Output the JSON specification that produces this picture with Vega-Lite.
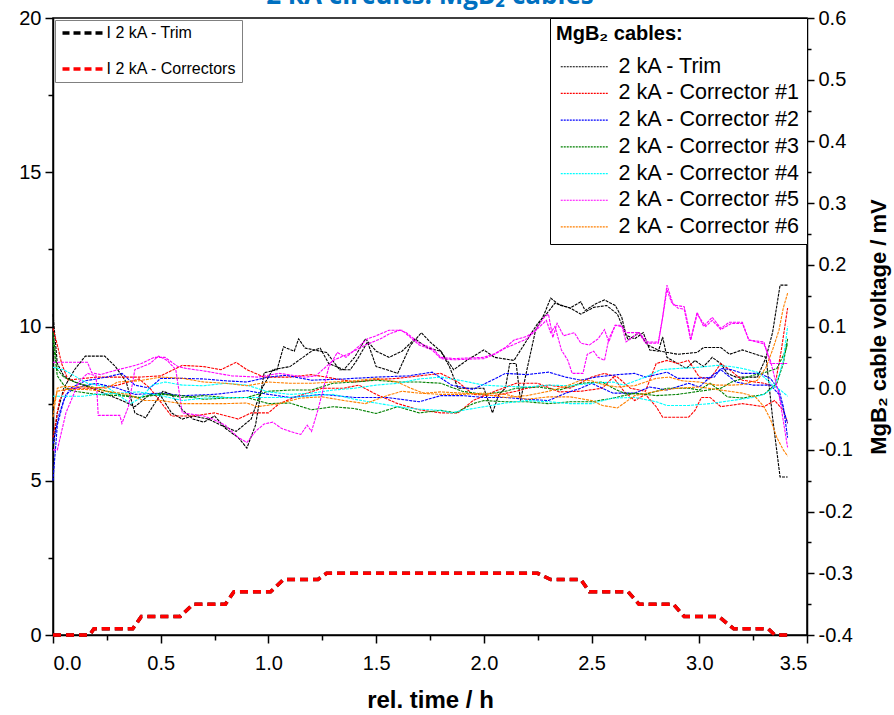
{
"$schema": "https://vega.github.io/schema/vega-lite/v6.json",
"width": 754, "height": 617,
"autosize": {"type": "none"},
"padding": {"left": 53, "top": 18, "right": 87, "bottom": 80},
"background": "white",
"title": {"text": "2 kA circuits: MgB₂ cables", "color": "#0070C0", "fontSize": 26, "fontWeight": "bold", "font": "Open Sans", "anchor": "middle", "baseline": "alphabetic", "offset": -22, "frame": "group"},
"config": {"view": {"stroke": "black", "strokeWidth": 1.5}, "font": "Liberation Sans",
  "axis": {"grid": false, "domainColor": "black", "domainWidth": 1.5, "tickColor": "black", "tickWidth": 1.5, "labelColor": "black", "titleColor": "black", "labelFont": "Liberation Sans", "titleFont": "Liberation Sans", "labelFontSize": 20}},
"datasets": {
"cur": [
{"s":"I 2 kA - Trim","t":0,"i":0},{"s":"I 2 kA - Trim","t":0.17,"i":0},{"s":"I 2 kA - Trim","t":0.19,"i":0.2},{"s":"I 2 kA - Trim","t":0.37,"i":0.2},{"s":"I 2 kA - Trim","t":0.41,"i":0.6},{"s":"I 2 kA - Trim","t":0.59,"i":0.6},{"s":"I 2 kA - Trim","t":0.65,"i":1.0},{"s":"I 2 kA - Trim","t":0.8,"i":1.0},{"s":"I 2 kA - Trim","t":0.84,"i":1.4},{"s":"I 2 kA - Trim","t":1.01,"i":1.4},{"s":"I 2 kA - Trim","t":1.07,"i":1.8},{"s":"I 2 kA - Trim","t":1.23,"i":1.8},{"s":"I 2 kA - Trim","t":1.27,"i":2.0},{"s":"I 2 kA - Trim","t":2.25,"i":2.0},{"s":"I 2 kA - Trim","t":2.31,"i":1.8},{"s":"I 2 kA - Trim","t":2.45,"i":1.8},{"s":"I 2 kA - Trim","t":2.49,"i":1.4},{"s":"I 2 kA - Trim","t":2.67,"i":1.4},{"s":"I 2 kA - Trim","t":2.72,"i":1.0},{"s":"I 2 kA - Trim","t":2.88,"i":1.0},{"s":"I 2 kA - Trim","t":2.93,"i":0.6},{"s":"I 2 kA - Trim","t":3.09,"i":0.6},{"s":"I 2 kA - Trim","t":3.16,"i":0.2},{"s":"I 2 kA - Trim","t":3.32,"i":0.2},{"s":"I 2 kA - Trim","t":3.35,"i":0},{"s":"I 2 kA - Trim","t":3.43,"i":0},
{"s":"I 2 kA - Correctors","t":0,"i":0},{"s":"I 2 kA - Correctors","t":0.17,"i":0},{"s":"I 2 kA - Correctors","t":0.19,"i":0.2},{"s":"I 2 kA - Correctors","t":0.37,"i":0.2},{"s":"I 2 kA - Correctors","t":0.41,"i":0.6},{"s":"I 2 kA - Correctors","t":0.59,"i":0.6},{"s":"I 2 kA - Correctors","t":0.65,"i":1.0},{"s":"I 2 kA - Correctors","t":0.8,"i":1.0},{"s":"I 2 kA - Correctors","t":0.84,"i":1.4},{"s":"I 2 kA - Correctors","t":1.01,"i":1.4},{"s":"I 2 kA - Correctors","t":1.07,"i":1.8},{"s":"I 2 kA - Correctors","t":1.23,"i":1.8},{"s":"I 2 kA - Correctors","t":1.27,"i":2.0},{"s":"I 2 kA - Correctors","t":2.25,"i":2.0},{"s":"I 2 kA - Correctors","t":2.31,"i":1.8},{"s":"I 2 kA - Correctors","t":2.45,"i":1.8},{"s":"I 2 kA - Correctors","t":2.49,"i":1.4},{"s":"I 2 kA - Correctors","t":2.67,"i":1.4},{"s":"I 2 kA - Correctors","t":2.72,"i":1.0},{"s":"I 2 kA - Correctors","t":2.88,"i":1.0},{"s":"I 2 kA - Correctors","t":2.93,"i":0.6},{"s":"I 2 kA - Correctors","t":3.09,"i":0.6},{"s":"I 2 kA - Correctors","t":3.16,"i":0.2},{"s":"I 2 kA - Correctors","t":3.32,"i":0.2},{"s":"I 2 kA - Correctors","t":3.35,"i":0},{"s":"I 2 kA - Correctors","t":3.43,"i":0}
],
"vol": [
{"k":"T","r":"a","t":0,"v":-0.1},{"k":"T","r":"a","t":0.02,"v":-0.04},{"k":"T","r":"a","t":0.05,"v":0.0},{"k":"T","r":"a","t":0.1,"v":0.03},{"k":"T","r":"a","t":0.15,"v":0.052},{"k":"T","r":"a","t":0.24,"v":0.052},{"k":"T","r":"a","t":0.29,"v":0.035},{"k":"T","r":"a","t":0.34,"v":0.01},{"k":"T","r":"a","t":0.38,"v":-0.04},{"k":"T","r":"a","t":0.43,"v":-0.048},{"k":"T","r":"a","t":0.48,"v":-0.02},{"k":"T","r":"a","t":0.51,"v":-0.005},{"k":"T","r":"a","t":0.55,"v":-0.01},{"k":"T","r":"a","t":0.6,"v":-0.035},{"k":"T","r":"a","t":0.65,"v":-0.05},{"k":"T","r":"a","t":0.7,"v":-0.055},{"k":"T","r":"a","t":0.75,"v":-0.045},{"k":"T","r":"a","t":0.8,"v":-0.065},{"k":"T","r":"a","t":0.86,"v":-0.08},{"k":"T","r":"a","t":0.9,"v":-0.097},{"k":"T","r":"a","t":0.94,"v":-0.06},{"k":"T","r":"a","t":0.98,"v":0.025},{"k":"T","r":"a","t":1.04,"v":0.03},{"k":"T","r":"a","t":1.07,"v":0.067},{"k":"T","r":"a","t":1.12,"v":0.06},{"k":"T","r":"a","t":1.14,"v":0.08},{"k":"T","r":"a","t":1.17,"v":0.065},{"k":"T","r":"a","t":1.27,"v":0.058},{"k":"T","r":"a","t":1.33,"v":0.03},{"k":"T","r":"a","t":1.38,"v":0.03},{"k":"T","r":"a","t":1.41,"v":0.045},{"k":"T","r":"a","t":1.46,"v":0.075},{"k":"T","r":"a","t":1.5,"v":0.035},{"k":"T","r":"a","t":1.55,"v":0.03},{"k":"T","r":"a","t":1.6,"v":0.024},{"k":"T","r":"a","t":1.66,"v":0.07},{"k":"T","r":"a","t":1.71,"v":0.09},{"k":"T","r":"a","t":1.75,"v":0.075},{"k":"T","r":"a","t":1.8,"v":0.06},{"k":"T","r":"a","t":1.84,"v":0.035},{"k":"T","r":"a","t":1.88,"v":0.0},{"k":"T","r":"a","t":2.0,"v":0.0},{"k":"T","r":"a","t":2.04,"v":-0.04},{"k":"T","r":"a","t":2.07,"v":-0.01},{"k":"T","r":"a","t":2.1,"v":0.0},{"k":"T","r":"a","t":2.12,"v":0.04},{"k":"T","r":"a","t":2.15,"v":0.04},{"k":"T","r":"a","t":2.17,"v":-0.02},{"k":"T","r":"a","t":2.2,"v":0.03},{"k":"T","r":"a","t":2.24,"v":0.094},{"k":"T","r":"a","t":2.28,"v":0.12},{"k":"T","r":"a","t":2.31,"v":0.146},{"k":"T","r":"a","t":2.35,"v":0.135},{"k":"T","r":"a","t":2.4,"v":0.13},{"k":"T","r":"a","t":2.45,"v":0.14},{"k":"T","r":"a","t":2.47,"v":0.126},{"k":"T","r":"a","t":2.52,"v":0.137},{"k":"T","r":"a","t":2.56,"v":0.143},{"k":"T","r":"a","t":2.61,"v":0.134},{"k":"T","r":"a","t":2.64,"v":0.115},{"k":"T","r":"a","t":2.66,"v":0.086},{"k":"T","r":"a","t":2.7,"v":0.08},{"k":"T","r":"a","t":2.74,"v":0.09},{"k":"T","r":"a","t":2.77,"v":0.062},{"k":"T","r":"a","t":2.81,"v":0.06},{"k":"T","r":"a","t":2.83,"v":0.083},{"k":"T","r":"a","t":2.85,"v":0.05},{"k":"T","r":"a","t":2.94,"v":0.032},{"k":"T","r":"a","t":2.98,"v":0.045},{"k":"T","r":"a","t":3.02,"v":0.035},{"k":"T","r":"a","t":3.06,"v":0.05},{"k":"T","r":"a","t":3.1,"v":0.04},{"k":"T","r":"a","t":3.13,"v":0.024},{"k":"T","r":"a","t":3.17,"v":0.018},{"k":"T","r":"a","t":3.27,"v":0.018},{"k":"T","r":"a","t":3.31,"v":0.05},{"k":"T","r":"a","t":3.34,"v":-0.047},{"k":"T","r":"a","t":3.375,"v":-0.144},{"k":"T","r":"a","t":3.41,"v":-0.144},
{"k":"T","r":"b","t":0,"v":0.12},{"k":"T","r":"b","t":0.02,"v":0.04},{"k":"T","r":"b","t":0.05,"v":0.02},{"k":"T","r":"b","t":0.1,"v":0.01},{"k":"T","r":"b","t":0.18,"v":0.0},{"k":"T","r":"b","t":0.25,"v":-0.01},{"k":"T","r":"b","t":0.32,"v":-0.02},{"k":"T","r":"b","t":0.38,"v":-0.03},{"k":"T","r":"b","t":0.45,"v":-0.01},{"k":"T","r":"b","t":0.5,"v":-0.012},{"k":"T","r":"b","t":0.55,"v":-0.04},{"k":"T","r":"b","t":0.6,"v":-0.05},{"k":"T","r":"b","t":0.65,"v":-0.045},{"k":"T","r":"b","t":0.72,"v":-0.05},{"k":"T","r":"b","t":0.78,"v":-0.06},{"k":"T","r":"b","t":0.85,"v":-0.07},{"k":"T","r":"b","t":0.92,"v":-0.05},{"k":"T","r":"b","t":0.97,"v":0.0},{"k":"T","r":"b","t":1.02,"v":0.03},{"k":"T","r":"b","t":1.1,"v":0.035},{"k":"T","r":"b","t":1.2,"v":0.06},{"k":"T","r":"b","t":1.24,"v":0.065},{"k":"T","r":"b","t":1.28,"v":0.04},{"k":"T","r":"b","t":1.35,"v":0.03},{"k":"T","r":"b","t":1.4,"v":0.05},{"k":"T","r":"b","t":1.45,"v":0.08},{"k":"T","r":"b","t":1.5,"v":0.06},{"k":"T","r":"b","t":1.56,"v":0.05},{"k":"T","r":"b","t":1.62,"v":0.06},{"k":"T","r":"b","t":1.68,"v":0.08},{"k":"T","r":"b","t":1.74,"v":0.065},{"k":"T","r":"b","t":1.8,"v":0.06},{"k":"T","r":"b","t":1.86,"v":0.03},{"k":"T","r":"b","t":1.92,"v":0.045},{"k":"T","r":"b","t":2.0,"v":0.062},{"k":"T","r":"b","t":2.05,"v":0.05},{"k":"T","r":"b","t":2.14,"v":0.045},{"k":"T","r":"b","t":2.2,"v":0.078},{"k":"T","r":"b","t":2.25,"v":0.105},{"k":"T","r":"b","t":2.29,"v":0.12},{"k":"T","r":"b","t":2.33,"v":0.138},{"k":"T","r":"b","t":2.4,"v":0.13},{"k":"T","r":"b","t":2.45,"v":0.12},{"k":"T","r":"b","t":2.51,"v":0.131},{"k":"T","r":"b","t":2.57,"v":0.134},{"k":"T","r":"b","t":2.62,"v":0.12},{"k":"T","r":"b","t":2.67,"v":0.078},{"k":"T","r":"b","t":2.72,"v":0.09},{"k":"T","r":"b","t":2.76,"v":0.07},{"k":"T","r":"b","t":2.82,"v":0.06},{"k":"T","r":"b","t":2.9,"v":0.055},{"k":"T","r":"b","t":2.99,"v":0.058},{"k":"T","r":"b","t":3.02,"v":0.066},{"k":"T","r":"b","t":3.1,"v":0.066},{"k":"T","r":"b","t":3.14,"v":0.055},{"k":"T","r":"b","t":3.2,"v":0.062},{"k":"T","r":"b","t":3.28,"v":0.053},{"k":"T","r":"b","t":3.31,"v":0.05},{"k":"T","r":"b","t":3.34,"v":0.09},{"k":"T","r":"b","t":3.375,"v":0.167},{"k":"T","r":"b","t":3.41,"v":0.167},
{"k":"1","r":"a","t":0,"v":0.097},{"k":"1","r":"a","t":0.02,"v":0.07},{"k":"1","r":"a","t":0.04,"v":0.04},{"k":"1","r":"a","t":0.07,"v":0.013},{"k":"1","r":"a","t":0.12,"v":0.015},{"k":"1","r":"a","t":0.2,"v":0.018},{"k":"1","r":"a","t":0.3,"v":0.018},{"k":"1","r":"a","t":0.4,"v":0.018},{"k":"1","r":"a","t":0.5,"v":0.02},{"k":"1","r":"a","t":0.6,"v":0.037},{"k":"1","r":"a","t":0.7,"v":0.035},{"k":"1","r":"a","t":0.78,"v":0.03},{"k":"1","r":"a","t":0.85,"v":0.042},{"k":"1","r":"a","t":0.9,"v":0.03},{"k":"1","r":"a","t":0.98,"v":0.018},{"k":"1","r":"a","t":1.1,"v":0.018},{"k":"1","r":"a","t":1.2,"v":0.022},{"k":"1","r":"a","t":1.3,"v":0.016},{"k":"1","r":"a","t":1.4,"v":0.01},{"k":"1","r":"a","t":1.5,"v":0.014},{"k":"1","r":"a","t":1.6,"v":0.016},{"k":"1","r":"a","t":1.7,"v":0.02},{"k":"1","r":"a","t":1.8,"v":0.024},{"k":"1","r":"a","t":1.88,"v":0.01},{"k":"1","r":"a","t":1.95,"v":-0.01},{"k":"1","r":"a","t":2.05,"v":-0.012},{"k":"1","r":"a","t":2.15,"v":-0.005},{"k":"1","r":"a","t":2.2,"v":0.0},{"k":"1","r":"a","t":2.3,"v":0.005},{"k":"1","r":"a","t":2.4,"v":0.0},{"k":"1","r":"a","t":2.5,"v":0.018},{"k":"1","r":"a","t":2.56,"v":0.024},{"k":"1","r":"a","t":2.62,"v":0.018},{"k":"1","r":"a","t":2.68,"v":0.0},{"k":"1","r":"a","t":2.75,"v":-0.005},{"k":"1","r":"a","t":2.8,"v":0.04},{"k":"1","r":"a","t":2.85,"v":0.045},{"k":"1","r":"a","t":2.9,"v":0.04},{"k":"1","r":"a","t":2.95,"v":0.045},{"k":"1","r":"a","t":3.0,"v":0.018},{"k":"1","r":"a","t":3.05,"v":0.015},{"k":"1","r":"a","t":3.1,"v":0.04},{"k":"1","r":"a","t":3.14,"v":0.03},{"k":"1","r":"a","t":3.2,"v":0.013},{"k":"1","r":"a","t":3.3,"v":0.008},{"k":"1","r":"a","t":3.35,"v":0.002},{"k":"1","r":"a","t":3.38,"v":0.06},{"k":"1","r":"a","t":3.41,"v":0.13},
{"k":"1","r":"b","t":0,"v":-0.08},{"k":"1","r":"b","t":0.03,"v":-0.02},{"k":"1","r":"b","t":0.06,"v":0.0},{"k":"1","r":"b","t":0.12,"v":0.0},{"k":"1","r":"b","t":0.2,"v":0.0},{"k":"1","r":"b","t":0.3,"v":0.005},{"k":"1","r":"b","t":0.4,"v":0.015},{"k":"1","r":"b","t":0.45,"v":0.0},{"k":"1","r":"b","t":0.55,"v":-0.045},{"k":"1","r":"b","t":0.65,"v":-0.045},{"k":"1","r":"b","t":0.75,"v":-0.04},{"k":"1","r":"b","t":0.86,"v":-0.05},{"k":"1","r":"b","t":0.92,"v":-0.04},{"k":"1","r":"b","t":1.0,"v":-0.04},{"k":"1","r":"b","t":1.05,"v":-0.025},{"k":"1","r":"b","t":1.12,"v":-0.015},{"k":"1","r":"b","t":1.25,"v":0.0},{"k":"1","r":"b","t":1.35,"v":0.0},{"k":"1","r":"b","t":1.42,"v":0.005},{"k":"1","r":"b","t":1.5,"v":-0.01},{"k":"1","r":"b","t":1.6,"v":-0.025},{"k":"1","r":"b","t":1.7,"v":-0.035},{"k":"1","r":"b","t":1.8,"v":-0.04},{"k":"1","r":"b","t":1.88,"v":-0.04},{"k":"1","r":"b","t":1.95,"v":-0.02},{"k":"1","r":"b","t":2.05,"v":-0.005},{"k":"1","r":"b","t":2.15,"v":0.008},{"k":"1","r":"b","t":2.25,"v":0.008},{"k":"1","r":"b","t":2.35,"v":-0.006},{"k":"1","r":"b","t":2.45,"v":-0.005},{"k":"1","r":"b","t":2.55,"v":0.0},{"k":"1","r":"b","t":2.6,"v":0.018},{"k":"1","r":"b","t":2.65,"v":-0.005},{"k":"1","r":"b","t":2.7,"v":-0.02},{"k":"1","r":"b","t":2.75,"v":-0.01},{"k":"1","r":"b","t":2.8,"v":-0.03},{"k":"1","r":"b","t":2.83,"v":-0.047},{"k":"1","r":"b","t":2.95,"v":-0.047},{"k":"1","r":"b","t":2.98,"v":-0.036},{"k":"1","r":"b","t":3.01,"v":-0.015},{"k":"1","r":"b","t":3.05,"v":-0.015},{"k":"1","r":"b","t":3.1,"v":-0.03},{"k":"1","r":"b","t":3.2,"v":-0.025},{"k":"1","r":"b","t":3.3,"v":-0.03},{"k":"1","r":"b","t":3.35,"v":-0.02},{"k":"1","r":"b","t":3.39,"v":-0.036},{"k":"1","r":"b","t":3.41,"v":-0.056},
{"k":"2","r":"a","t":0,"v":-0.15},{"k":"2","r":"a","t":0.02,"v":-0.06},{"k":"2","r":"a","t":0.05,"v":-0.02},{"k":"2","r":"a","t":0.08,"v":0.0},{"k":"2","r":"a","t":0.15,"v":0.012},{"k":"2","r":"a","t":0.25,"v":0.018},{"k":"2","r":"a","t":0.32,"v":0.024},{"k":"2","r":"a","t":0.38,"v":0.005},{"k":"2","r":"a","t":0.45,"v":0.0},{"k":"2","r":"a","t":0.5,"v":0.016},{"k":"2","r":"a","t":0.6,"v":0.016},{"k":"2","r":"a","t":0.7,"v":0.015},{"k":"2","r":"a","t":0.8,"v":0.012},{"k":"2","r":"a","t":0.9,"v":0.01},{"k":"2","r":"a","t":1.0,"v":0.018},{"k":"2","r":"a","t":1.08,"v":0.021},{"k":"2","r":"a","t":1.2,"v":0.013},{"k":"2","r":"a","t":1.35,"v":0.015},{"k":"2","r":"a","t":1.5,"v":0.018},{"k":"2","r":"a","t":1.65,"v":0.02},{"k":"2","r":"a","t":1.76,"v":0.026},{"k":"2","r":"a","t":1.85,"v":0.005},{"k":"2","r":"a","t":1.95,"v":-0.002},{"k":"2","r":"a","t":2.05,"v":0.015},{"k":"2","r":"a","t":2.1,"v":0.024},{"k":"2","r":"a","t":2.2,"v":0.022},{"k":"2","r":"a","t":2.3,"v":0.026},{"k":"2","r":"a","t":2.38,"v":0.018},{"k":"2","r":"a","t":2.45,"v":0.013},{"k":"2","r":"a","t":2.52,"v":0.018},{"k":"2","r":"a","t":2.62,"v":0.022},{"k":"2","r":"a","t":2.7,"v":0.024},{"k":"2","r":"a","t":2.75,"v":0.018},{"k":"2","r":"a","t":2.85,"v":0.026},{"k":"2","r":"a","t":2.9,"v":0.016},{"k":"2","r":"a","t":3.0,"v":0.016},{"k":"2","r":"a","t":3.07,"v":0.018},{"k":"2","r":"a","t":3.1,"v":0.032},{"k":"2","r":"a","t":3.15,"v":0.03},{"k":"2","r":"a","t":3.2,"v":0.024},{"k":"2","r":"a","t":3.28,"v":0.024},{"k":"2","r":"a","t":3.33,"v":0.016},{"k":"2","r":"a","t":3.37,"v":-0.003},{"k":"2","r":"a","t":3.39,"v":-0.03},{"k":"2","r":"a","t":3.41,"v":-0.08},
{"k":"2","r":"b","t":0,"v":-0.09},{"k":"2","r":"b","t":0.03,"v":-0.04},{"k":"2","r":"b","t":0.06,"v":-0.01},{"k":"2","r":"b","t":0.1,"v":0.0},{"k":"2","r":"b","t":0.2,"v":0.008},{"k":"2","r":"b","t":0.3,"v":0.0},{"k":"2","r":"b","t":0.38,"v":-0.01},{"k":"2","r":"b","t":0.5,"v":-0.008},{"k":"2","r":"b","t":0.6,"v":-0.012},{"k":"2","r":"b","t":0.75,"v":-0.01},{"k":"2","r":"b","t":0.9,"v":-0.004},{"k":"2","r":"b","t":1.0,"v":-0.01},{"k":"2","r":"b","t":1.1,"v":-0.015},{"k":"2","r":"b","t":1.25,"v":-0.01},{"k":"2","r":"b","t":1.4,"v":-0.015},{"k":"2","r":"b","t":1.55,"v":-0.015},{"k":"2","r":"b","t":1.7,"v":-0.022},{"k":"2","r":"b","t":1.8,"v":-0.012},{"k":"2","r":"b","t":1.9,"v":-0.012},{"k":"2","r":"b","t":2.0,"v":-0.015},{"k":"2","r":"b","t":2.1,"v":-0.015},{"k":"2","r":"b","t":2.2,"v":-0.018},{"k":"2","r":"b","t":2.3,"v":-0.02},{"k":"2","r":"b","t":2.38,"v":-0.008},{"k":"2","r":"b","t":2.45,"v":0.0},{"k":"2","r":"b","t":2.5,"v":0.008},{"k":"2","r":"b","t":2.6,"v":-0.008},{"k":"2","r":"b","t":2.7,"v":-0.008},{"k":"2","r":"b","t":2.77,"v":0.002},{"k":"2","r":"b","t":2.85,"v":-0.003},{"k":"2","r":"b","t":2.95,"v":0.008},{"k":"2","r":"b","t":3.0,"v":0.002},{"k":"2","r":"b","t":3.05,"v":0.018},{"k":"2","r":"b","t":3.1,"v":0.03},{"k":"2","r":"b","t":3.17,"v":0.01},{"k":"2","r":"b","t":3.25,"v":0.005},{"k":"2","r":"b","t":3.33,"v":0.005},{"k":"2","r":"b","t":3.37,"v":-0.01},{"k":"2","r":"b","t":3.41,"v":-0.057},
{"k":"3","r":"a","t":0,"v":0.09},{"k":"3","r":"a","t":0.02,"v":0.03},{"k":"3","r":"a","t":0.05,"v":0.018},{"k":"3","r":"a","t":0.1,"v":0.01},{"k":"3","r":"a","t":0.2,"v":0.0},{"k":"3","r":"a","t":0.3,"v":-0.01},{"k":"3","r":"a","t":0.4,"v":-0.015},{"k":"3","r":"a","t":0.5,"v":-0.008},{"k":"3","r":"a","t":0.6,"v":-0.015},{"k":"3","r":"a","t":0.7,"v":-0.012},{"k":"3","r":"a","t":0.8,"v":-0.015},{"k":"3","r":"a","t":0.9,"v":-0.015},{"k":"3","r":"a","t":1.0,"v":-0.005},{"k":"3","r":"a","t":1.1,"v":-0.003},{"k":"3","r":"a","t":1.2,"v":-0.003},{"k":"3","r":"a","t":1.3,"v":0.008},{"k":"3","r":"a","t":1.4,"v":0.01},{"k":"3","r":"a","t":1.5,"v":0.013},{"k":"3","r":"a","t":1.6,"v":0.01},{"k":"3","r":"a","t":1.7,"v":0.01},{"k":"3","r":"a","t":1.8,"v":0.008},{"k":"3","r":"a","t":1.9,"v":-0.005},{"k":"3","r":"a","t":2.0,"v":-0.01},{"k":"3","r":"a","t":2.1,"v":-0.005},{"k":"3","r":"a","t":2.15,"v":0.0},{"k":"3","r":"a","t":2.25,"v":0.002},{"k":"3","r":"a","t":2.35,"v":-0.003},{"k":"3","r":"a","t":2.45,"v":0.008},{"k":"3","r":"a","t":2.55,"v":0.01},{"k":"3","r":"a","t":2.6,"v":0.0},{"k":"3","r":"a","t":2.65,"v":-0.008},{"k":"3","r":"a","t":2.75,"v":-0.01},{"k":"3","r":"a","t":2.85,"v":0.0},{"k":"3","r":"a","t":2.95,"v":0.0},{"k":"3","r":"a","t":3.0,"v":-0.003},{"k":"3","r":"a","t":3.05,"v":0.008},{"k":"3","r":"a","t":3.1,"v":-0.005},{"k":"3","r":"a","t":3.13,"v":-0.014},{"k":"3","r":"a","t":3.2,"v":-0.016},{"k":"3","r":"a","t":3.3,"v":-0.01},{"k":"3","r":"a","t":3.36,"v":0.008},{"k":"3","r":"a","t":3.39,"v":0.04},{"k":"3","r":"a","t":3.41,"v":0.08},
{"k":"3","r":"b","t":0,"v":0.078},{"k":"3","r":"b","t":0.02,"v":0.02},{"k":"3","r":"b","t":0.06,"v":0.0},{"k":"3","r":"b","t":0.1,"v":-0.005},{"k":"3","r":"b","t":0.2,"v":-0.01},{"k":"3","r":"b","t":0.3,"v":-0.012},{"k":"3","r":"b","t":0.4,"v":-0.015},{"k":"3","r":"b","t":0.5,"v":-0.01},{"k":"3","r":"b","t":0.6,"v":-0.012},{"k":"3","r":"b","t":0.7,"v":-0.018},{"k":"3","r":"b","t":0.8,"v":-0.016},{"k":"3","r":"b","t":0.9,"v":-0.015},{"k":"3","r":"b","t":1.0,"v":-0.025},{"k":"3","r":"b","t":1.1,"v":-0.024},{"k":"3","r":"b","t":1.2,"v":-0.035},{"k":"3","r":"b","t":1.3,"v":-0.03},{"k":"3","r":"b","t":1.4,"v":-0.033},{"k":"3","r":"b","t":1.5,"v":-0.041},{"k":"3","r":"b","t":1.6,"v":-0.03},{"k":"3","r":"b","t":1.7,"v":-0.04},{"k":"3","r":"b","t":1.8,"v":-0.036},{"k":"3","r":"b","t":1.87,"v":-0.04},{"k":"3","r":"b","t":1.95,"v":-0.025},{"k":"3","r":"b","t":2.0,"v":-0.02},{"k":"3","r":"b","t":2.1,"v":-0.022},{"k":"3","r":"b","t":2.2,"v":-0.022},{"k":"3","r":"b","t":2.3,"v":-0.025},{"k":"3","r":"b","t":2.4,"v":-0.022},{"k":"3","r":"b","t":2.5,"v":-0.022},{"k":"3","r":"b","t":2.6,"v":-0.016},{"k":"3","r":"b","t":2.7,"v":-0.008},{"k":"3","r":"b","t":2.8,"v":-0.012},{"k":"3","r":"b","t":2.9,"v":-0.01},{"k":"3","r":"b","t":3.0,"v":-0.005},{"k":"3","r":"b","t":3.1,"v":0.0},{"k":"3","r":"b","t":3.15,"v":0.01},{"k":"3","r":"b","t":3.25,"v":0.021},{"k":"3","r":"b","t":3.3,"v":0.025},{"k":"3","r":"b","t":3.36,"v":0.032},{"k":"3","r":"b","t":3.4,"v":0.06},{"k":"3","r":"b","t":3.41,"v":0.073},
{"k":"4","r":"a","t":0,"v":0.034},{"k":"4","r":"a","t":0.05,"v":0.03},{"k":"4","r":"a","t":0.1,"v":0.02},{"k":"4","r":"a","t":0.16,"v":0.008},{"k":"4","r":"a","t":0.25,"v":0.002},{"k":"4","r":"a","t":0.32,"v":-0.015},{"k":"4","r":"a","t":0.36,"v":-0.025},{"k":"4","r":"a","t":0.41,"v":-0.015},{"k":"4","r":"a","t":0.46,"v":0.005},{"k":"4","r":"a","t":0.52,"v":0.01},{"k":"4","r":"a","t":0.6,"v":0.005},{"k":"4","r":"a","t":0.7,"v":0.004},{"k":"4","r":"a","t":0.8,"v":0.008},{"k":"4","r":"a","t":0.9,"v":0.005},{"k":"4","r":"a","t":1.0,"v":-0.006},{"k":"4","r":"a","t":1.1,"v":-0.01},{"k":"4","r":"a","t":1.2,"v":-0.008},{"k":"4","r":"a","t":1.3,"v":-0.003},{"k":"4","r":"a","t":1.4,"v":0.0},{"k":"4","r":"a","t":1.5,"v":0.005},{"k":"4","r":"a","t":1.6,"v":0.008},{"k":"4","r":"a","t":1.7,"v":0.015},{"k":"4","r":"a","t":1.8,"v":0.018},{"k":"4","r":"a","t":1.9,"v":0.012},{"k":"4","r":"a","t":2.0,"v":0.005},{"k":"4","r":"a","t":2.1,"v":0.003},{"k":"4","r":"a","t":2.2,"v":0.002},{"k":"4","r":"a","t":2.3,"v":0.005},{"k":"4","r":"a","t":2.4,"v":0.004},{"k":"4","r":"a","t":2.5,"v":0.008},{"k":"4","r":"a","t":2.6,"v":0.01},{"k":"4","r":"a","t":2.65,"v":0.005},{"k":"4","r":"a","t":2.75,"v":0.018},{"k":"4","r":"a","t":2.82,"v":0.03},{"k":"4","r":"a","t":2.9,"v":0.032},{"k":"4","r":"a","t":3.0,"v":0.034},{"k":"4","r":"a","t":3.08,"v":0.037},{"k":"4","r":"a","t":3.15,"v":0.035},{"k":"4","r":"a","t":3.2,"v":0.032},{"k":"4","r":"a","t":3.27,"v":0.026},{"k":"4","r":"a","t":3.3,"v":0.018},{"k":"4","r":"a","t":3.34,"v":0.005},{"k":"4","r":"a","t":3.38,"v":-0.004},{"k":"4","r":"a","t":3.41,"v":-0.013},
{"k":"4","r":"b","t":0,"v":-0.013},{"k":"4","r":"b","t":0.14,"v":-0.013},{"k":"4","r":"b","t":0.2,"v":-0.01},{"k":"4","r":"b","t":0.3,"v":-0.008},{"k":"4","r":"b","t":0.4,"v":-0.006},{"k":"4","r":"b","t":0.5,"v":-0.012},{"k":"4","r":"b","t":0.6,"v":-0.02},{"k":"4","r":"b","t":0.7,"v":-0.016},{"k":"4","r":"b","t":0.8,"v":-0.015},{"k":"4","r":"b","t":0.9,"v":-0.015},{"k":"4","r":"b","t":1.0,"v":-0.015},{"k":"4","r":"b","t":1.1,"v":-0.015},{"k":"4","r":"b","t":1.2,"v":-0.012},{"k":"4","r":"b","t":1.3,"v":-0.01},{"k":"4","r":"b","t":1.4,"v":-0.018},{"k":"4","r":"b","t":1.5,"v":-0.024},{"k":"4","r":"b","t":1.6,"v":-0.03},{"k":"4","r":"b","t":1.7,"v":-0.034},{"k":"4","r":"b","t":1.8,"v":-0.036},{"k":"4","r":"b","t":1.85,"v":-0.04},{"k":"4","r":"b","t":1.9,"v":-0.036},{"k":"4","r":"b","t":2.0,"v":-0.03},{"k":"4","r":"b","t":2.1,"v":-0.024},{"k":"4","r":"b","t":2.2,"v":-0.02},{"k":"4","r":"b","t":2.3,"v":-0.022},{"k":"4","r":"b","t":2.4,"v":-0.025},{"k":"4","r":"b","t":2.5,"v":-0.025},{"k":"4","r":"b","t":2.6,"v":-0.016},{"k":"4","r":"b","t":2.7,"v":-0.015},{"k":"4","r":"b","t":2.8,"v":-0.022},{"k":"4","r":"b","t":2.85,"v":-0.028},{"k":"4","r":"b","t":2.95,"v":-0.028},{"k":"4","r":"b","t":3.05,"v":-0.025},{"k":"4","r":"b","t":3.15,"v":-0.02},{"k":"4","r":"b","t":3.25,"v":-0.015},{"k":"4","r":"b","t":3.3,"v":-0.01},{"k":"4","r":"b","t":3.34,"v":0.0},{"k":"4","r":"b","t":3.37,"v":0.02},{"k":"4","r":"b","t":3.39,"v":0.045},{"k":"4","r":"b","t":3.41,"v":0.1},
{"k":"5","r":"a","t":0,"v":0.042},{"k":"5","r":"a","t":0.16,"v":0.042},{"k":"5","r":"a","t":0.18,"v":0.025},{"k":"5","r":"a","t":0.22,"v":0.022},{"k":"5","r":"a","t":0.3,"v":0.03},{"k":"5","r":"a","t":0.36,"v":0.035},{"k":"5","r":"a","t":0.41,"v":0.04},{"k":"5","r":"a","t":0.47,"v":0.05},{"k":"5","r":"a","t":0.52,"v":0.05},{"k":"5","r":"a","t":0.58,"v":0.035},{"k":"5","r":"a","t":0.62,"v":0.032},{"k":"5","r":"a","t":0.7,"v":0.028},{"k":"5","r":"a","t":0.83,"v":0.02},{"k":"5","r":"a","t":0.95,"v":0.018},{"k":"5","r":"a","t":1.05,"v":0.024},{"k":"5","r":"a","t":1.17,"v":0.018},{"k":"5","r":"a","t":1.22,"v":0.02},{"k":"5","r":"a","t":1.3,"v":0.045},{"k":"5","r":"a","t":1.38,"v":0.057},{"k":"5","r":"a","t":1.45,"v":0.07},{"k":"5","r":"a","t":1.52,"v":0.08},{"k":"5","r":"a","t":1.56,"v":0.088},{"k":"5","r":"a","t":1.61,"v":0.094},{"k":"5","r":"a","t":1.64,"v":0.09},{"k":"5","r":"a","t":1.7,"v":0.073},{"k":"5","r":"a","t":1.76,"v":0.065},{"k":"5","r":"a","t":1.8,"v":0.05},{"k":"5","r":"a","t":1.86,"v":0.048},{"k":"5","r":"a","t":2.0,"v":0.05},{"k":"5","r":"a","t":2.05,"v":0.056},{"k":"5","r":"a","t":2.1,"v":0.066},{"k":"5","r":"a","t":2.14,"v":0.078},{"k":"5","r":"a","t":2.2,"v":0.084},{"k":"5","r":"a","t":2.24,"v":0.094},{"k":"5","r":"a","t":2.28,"v":0.115},{"k":"5","r":"a","t":2.3,"v":0.12},{"k":"5","r":"a","t":2.32,"v":0.082},{"k":"5","r":"a","t":2.34,"v":0.105},{"k":"5","r":"a","t":2.37,"v":0.085},{"k":"5","r":"a","t":2.42,"v":0.09},{"k":"5","r":"a","t":2.45,"v":0.073},{"k":"5","r":"a","t":2.49,"v":0.07},{"k":"5","r":"a","t":2.53,"v":0.08},{"k":"5","r":"a","t":2.56,"v":0.095},{"k":"5","r":"a","t":2.58,"v":0.075},{"k":"5","r":"a","t":2.61,"v":0.102},{"k":"5","r":"a","t":2.64,"v":0.102},{"k":"5","r":"a","t":2.66,"v":0.075},{"k":"5","r":"a","t":2.72,"v":0.09},{"k":"5","r":"a","t":2.76,"v":0.075},{"k":"5","r":"a","t":2.81,"v":0.075},{"k":"5","r":"a","t":2.83,"v":0.115},{"k":"5","r":"a","t":2.85,"v":0.167},{"k":"5","r":"a","t":2.87,"v":0.145},{"k":"5","r":"a","t":2.88,"v":0.135},{"k":"5","r":"a","t":2.93,"v":0.132},{"k":"5","r":"a","t":2.95,"v":0.1},{"k":"5","r":"a","t":2.96,"v":0.078},{"k":"5","r":"a","t":2.99,"v":0.123},{"k":"5","r":"a","t":3.02,"v":0.1},{"k":"5","r":"a","t":3.06,"v":0.115},{"k":"5","r":"a","t":3.1,"v":0.097},{"k":"5","r":"a","t":3.14,"v":0.107},{"k":"5","r":"a","t":3.2,"v":0.107},{"k":"5","r":"a","t":3.23,"v":0.078},{"k":"5","r":"a","t":3.3,"v":0.075},{"k":"5","r":"a","t":3.33,"v":0.04},{"k":"5","r":"a","t":3.41,"v":0.04},
{"k":"5","r":"b","t":0,"v":-0.1},{"k":"5","r":"b","t":0.02,"v":-0.1},{"k":"5","r":"b","t":0.06,"v":-0.04},{"k":"5","r":"b","t":0.12,"v":0.01},{"k":"5","r":"b","t":0.16,"v":0.024},{"k":"5","r":"b","t":0.2,"v":0.02},{"k":"5","r":"b","t":0.21,"v":-0.044},{"k":"5","r":"b","t":0.31,"v":-0.044},{"k":"5","r":"b","t":0.32,"v":-0.057},{"k":"5","r":"b","t":0.35,"v":-0.03},{"k":"5","r":"b","t":0.38,"v":0.03},{"k":"5","r":"b","t":0.45,"v":0.04},{"k":"5","r":"b","t":0.49,"v":0.052},{"k":"5","r":"b","t":0.53,"v":0.045},{"k":"5","r":"b","t":0.57,"v":0.03},{"k":"5","r":"b","t":0.6,"v":-0.04},{"k":"5","r":"b","t":0.7,"v":-0.045},{"k":"5","r":"b","t":0.74,"v":-0.05},{"k":"5","r":"b","t":0.8,"v":-0.06},{"k":"5","r":"b","t":0.86,"v":-0.08},{"k":"5","r":"b","t":0.9,"v":-0.088},{"k":"5","r":"b","t":0.94,"v":-0.07},{"k":"5","r":"b","t":0.98,"v":-0.058},{"k":"5","r":"b","t":1.02,"v":-0.055},{"k":"5","r":"b","t":1.06,"v":-0.065},{"k":"5","r":"b","t":1.1,"v":-0.07},{"k":"5","r":"b","t":1.15,"v":-0.075},{"k":"5","r":"b","t":1.18,"v":-0.06},{"k":"5","r":"b","t":1.2,"v":-0.07},{"k":"5","r":"b","t":1.23,"v":-0.035},{"k":"5","r":"b","t":1.28,"v":0.034},{"k":"5","r":"b","t":1.32,"v":0.058},{"k":"5","r":"b","t":1.36,"v":0.05},{"k":"5","r":"b","t":1.4,"v":0.062},{"k":"5","r":"b","t":1.46,"v":0.08},{"k":"5","r":"b","t":1.5,"v":0.085},{"k":"5","r":"b","t":1.56,"v":0.094},{"k":"5","r":"b","t":1.62,"v":0.094},{"k":"5","r":"b","t":1.65,"v":0.085},{"k":"5","r":"b","t":1.7,"v":0.07},{"k":"5","r":"b","t":1.76,"v":0.062},{"k":"5","r":"b","t":1.8,"v":0.048},{"k":"5","r":"b","t":1.86,"v":0.046},{"k":"5","r":"b","t":2.0,"v":0.048},{"k":"5","r":"b","t":2.05,"v":0.055},{"k":"5","r":"b","t":2.1,"v":0.065},{"k":"5","r":"b","t":2.2,"v":0.08},{"k":"5","r":"b","t":2.26,"v":0.1},{"k":"5","r":"b","t":2.29,"v":0.11},{"k":"5","r":"b","t":2.31,"v":0.09},{"k":"5","r":"b","t":2.33,"v":0.1},{"k":"5","r":"b","t":2.36,"v":0.062},{"k":"5","r":"b","t":2.39,"v":0.045},{"k":"5","r":"b","t":2.41,"v":0.024},{"k":"5","r":"b","t":2.46,"v":0.024},{"k":"5","r":"b","t":2.48,"v":0.055},{"k":"5","r":"b","t":2.51,"v":0.06},{"k":"5","r":"b","t":2.53,"v":0.05},{"k":"5","r":"b","t":2.56,"v":0.045},{"k":"5","r":"b","t":2.58,"v":0.08},{"k":"5","r":"b","t":2.61,"v":0.102},{"k":"5","r":"b","t":2.64,"v":0.1},{"k":"5","r":"b","t":2.66,"v":0.09},{"k":"5","r":"b","t":2.72,"v":0.09},{"k":"5","r":"b","t":2.75,"v":0.073},{"k":"5","r":"b","t":2.81,"v":0.073},{"k":"5","r":"b","t":2.83,"v":0.115},{"k":"5","r":"b","t":2.85,"v":0.16},{"k":"5","r":"b","t":2.87,"v":0.14},{"k":"5","r":"b","t":2.9,"v":0.13},{"k":"5","r":"b","t":2.93,"v":0.128},{"k":"5","r":"b","t":2.96,"v":0.078},{"k":"5","r":"b","t":2.99,"v":0.12},{"k":"5","r":"b","t":3.03,"v":0.1},{"k":"5","r":"b","t":3.06,"v":0.11},{"k":"5","r":"b","t":3.1,"v":0.095},{"k":"5","r":"b","t":3.15,"v":0.105},{"k":"5","r":"b","t":3.2,"v":0.105},{"k":"5","r":"b","t":3.23,"v":0.078},{"k":"5","r":"b","t":3.3,"v":0.072},{"k":"5","r":"b","t":3.33,"v":0.045},{"k":"5","r":"b","t":3.37,"v":-0.01},{"k":"5","r":"b","t":3.41,"v":-0.096},
{"k":"6","r":"a","t":0,"v":-0.047},{"k":"6","r":"a","t":0.02,"v":0.0},{"k":"6","r":"a","t":0.05,"v":0.003},{"k":"6","r":"a","t":0.15,"v":0.002},{"k":"6","r":"a","t":0.25,"v":0.0},{"k":"6","r":"a","t":0.3,"v":0.01},{"k":"6","r":"a","t":0.4,"v":0.012},{"k":"6","r":"a","t":0.5,"v":0.018},{"k":"6","r":"a","t":0.6,"v":0.016},{"k":"6","r":"a","t":0.7,"v":0.01},{"k":"6","r":"a","t":0.8,"v":0.008},{"k":"6","r":"a","t":0.9,"v":0.004},{"k":"6","r":"a","t":1.0,"v":0.01},{"k":"6","r":"a","t":1.1,"v":0.008},{"k":"6","r":"a","t":1.2,"v":0.008},{"k":"6","r":"a","t":1.3,"v":0.01},{"k":"6","r":"a","t":1.4,"v":0.012},{"k":"6","r":"a","t":1.5,"v":0.016},{"k":"6","r":"a","t":1.6,"v":0.01},{"k":"6","r":"a","t":1.66,"v":0.0},{"k":"6","r":"a","t":1.72,"v":-0.008},{"k":"6","r":"a","t":1.8,"v":-0.006},{"k":"6","r":"a","t":1.9,"v":-0.008},{"k":"6","r":"a","t":2.0,"v":-0.01},{"k":"6","r":"a","t":2.1,"v":-0.015},{"k":"6","r":"a","t":2.2,"v":-0.012},{"k":"6","r":"a","t":2.3,"v":-0.005},{"k":"6","r":"a","t":2.38,"v":0.003},{"k":"6","r":"a","t":2.45,"v":0.013},{"k":"6","r":"a","t":2.5,"v":0.012},{"k":"6","r":"a","t":2.56,"v":0.005},{"k":"6","r":"a","t":2.62,"v":0.002},{"k":"6","r":"a","t":2.7,"v":0.004},{"k":"6","r":"a","t":2.8,"v":0.016},{"k":"6","r":"a","t":2.86,"v":0.018},{"k":"6","r":"a","t":2.92,"v":0.012},{"k":"6","r":"a","t":3.0,"v":0.01},{"k":"6","r":"a","t":3.08,"v":0.005},{"k":"6","r":"a","t":3.15,"v":0.005},{"k":"6","r":"a","t":3.2,"v":0.006},{"k":"6","r":"a","t":3.27,"v":0.013},{"k":"6","r":"a","t":3.31,"v":0.034},{"k":"6","r":"a","t":3.34,"v":0.062},{"k":"6","r":"a","t":3.37,"v":0.094},{"k":"6","r":"a","t":3.39,"v":0.13},{"k":"6","r":"a","t":3.41,"v":0.154},
{"k":"6","r":"b","t":0,"v":-0.03},{"k":"6","r":"b","t":0.02,"v":-0.005},{"k":"6","r":"b","t":0.06,"v":-0.002},{"k":"6","r":"b","t":0.15,"v":-0.002},{"k":"6","r":"b","t":0.25,"v":-0.005},{"k":"6","r":"b","t":0.35,"v":-0.01},{"k":"6","r":"b","t":0.42,"v":-0.02},{"k":"6","r":"b","t":0.5,"v":-0.02},{"k":"6","r":"b","t":0.6,"v":-0.025},{"k":"6","r":"b","t":0.7,"v":-0.025},{"k":"6","r":"b","t":0.8,"v":-0.025},{"k":"6","r":"b","t":0.9,"v":-0.024},{"k":"6","r":"b","t":0.95,"v":-0.03},{"k":"6","r":"b","t":1.05,"v":-0.025},{"k":"6","r":"b","t":1.15,"v":-0.016},{"k":"6","r":"b","t":1.25,"v":-0.014},{"k":"6","r":"b","t":1.35,"v":-0.02},{"k":"6","r":"b","t":1.45,"v":-0.025},{"k":"6","r":"b","t":1.55,"v":-0.012},{"k":"6","r":"b","t":1.62,"v":-0.005},{"k":"6","r":"b","t":1.7,"v":-0.008},{"k":"6","r":"b","t":1.8,"v":-0.01},{"k":"6","r":"b","t":1.9,"v":-0.01},{"k":"6","r":"b","t":2.0,"v":-0.008},{"k":"6","r":"b","t":2.1,"v":-0.01},{"k":"6","r":"b","t":2.2,"v":-0.018},{"k":"6","r":"b","t":2.3,"v":-0.014},{"k":"6","r":"b","t":2.4,"v":-0.014},{"k":"6","r":"b","t":2.5,"v":-0.02},{"k":"6","r":"b","t":2.55,"v":-0.028},{"k":"6","r":"b","t":2.62,"v":-0.032},{"k":"6","r":"b","t":2.7,"v":-0.012},{"k":"6","r":"b","t":2.8,"v":-0.005},{"k":"6","r":"b","t":2.9,"v":0.0},{"k":"6","r":"b","t":3.0,"v":0.002},{"k":"6","r":"b","t":3.1,"v":-0.003},{"k":"6","r":"b","t":3.2,"v":-0.008},{"k":"6","r":"b","t":3.26,"v":-0.014},{"k":"6","r":"b","t":3.3,"v":-0.03},{"k":"6","r":"b","t":3.33,"v":-0.05},{"k":"6","r":"b","t":3.36,"v":-0.08},{"k":"6","r":"b","t":3.39,"v":-0.1},{"k":"6","r":"b","t":3.41,"v":-0.11}
]
},
"layer": [
{"data": {"name": "vol"},
 "mark": {"type": "line", "strokeWidth": 1.1, "strokeDash": [3, 1]},
 "encoding": {
  "x": {"field": "t", "type": "quantitative", "scale": {"domain": [0, 3.5], "nice": false, "zero": false},
    "axis": {"values": [0,0.25,0.5,0.75,1,1.25,1.5,1.75,2,2.25,2.5,2.75,3,3.25,3.5], "labelExpr": "datum.value % 0.5 == 0 ? format(datum.value, '.1f') : ''", "tickSize": {"expr": "datum.value % 0.5 == 0 ? 8 : 5"}, "labelPadding": 10, "title": "rel. time / h", "titleFontSize": 24, "titleFontWeight": "bold", "titlePadding": 15}},
  "y": {"field": "v", "type": "quantitative", "scale": {"domain": [-0.4, 0.6], "nice": false, "zero": false},
    "axis": {"orient": "right", "values": [-0.4,-0.35,-0.3,-0.25,-0.2,-0.15,-0.1,-0.05,0,0.05,0.1,0.15,0.2,0.25,0.3,0.35,0.4,0.45,0.5,0.55,0.6], "labelExpr": "abs(round(datum.value*20)) % 2 == 0 ? replace(format(datum.value, '.1f'), '−', '-') : ''", "tickSize": {"expr": "abs(round(datum.value*20)) % 2 == 0 ? 7 : 4"}, "labelPadding": 4, "title": "MgB₂ cable voltage / mV", "titleFontSize": 22, "titleFontWeight": "bold", "titleAngle": 270, "titlePadding": 38}},
  "color": {"field": "k", "type": "nominal", "scale": {"domain": ["T","1","2","3","4","5","6"], "range": ["#000000","#ff0000","#0000ff","#008000","#00ffff","#ff00ff","#ff8000"]},
    "legend": {"orient": "top-right", "offset": 0, "title": "MgB₂ cables:", "titleFontSize": 20, "titleFontWeight": "bold", "titleColor": "black", "titlePadding": 12, "symbolType": "M-4,0L4,0", "symbolSize": 144, "symbolOffset": 18, "symbolStrokeWidth": 1.2, "symbolDash": [2, 1], "labelFontSize": 21.5, "labelOffset": 23, "labelColor": "black", "labelLimit": 400, "rowPadding": 3.7, "padding": 6, "strokeColor": "black", "fillColor": "white",
      "labelExpr": "{'T':'2 kA - Trim','1':'2 kA - Corrector #1','2':'2 kA - Corrector #2','3':'2 kA - Corrector #3','4':'2 kA - Corrector #4','5':'2 kA - Corrector #5','6':'2 kA - Corrector #6'}[datum.label]"}},
  "detail": {"field": "r"}
 }},
{"data": {"name": "cur"},
 "mark": {"type": "line", "strokeWidth": 3.5, "strokeDash": [8, 5]},
 "encoding": {
  "x": {"field": "t", "type": "quantitative"},
  "y": {"field": "i", "type": "quantitative", "scale": {"domain": [0, 20], "nice": false, "zero": false},
    "axis": {"orient": "left", "values": [0,2.5,5,7.5,10,12.5,15,17.5,20], "labelExpr": "datum.value % 5 == 0 ? datum.value : ''", "tickSize": {"expr": "datum.value % 5 == 0 ? 8 : 5"}, "labelPadding": 4, "title": null}},
  "color": {"field": "s", "type": "nominal", "scale": {"domain": ["I 2 kA - Trim", "I 2 kA - Correctors"], "range": ["#000000", "#ff0000"]},
    "legend": {"orient": "top-left", "offset": 2, "title": null, "symbolType": "M-4,0L4,0", "symbolSize": 121, "symbolOffset": 16.5, "symbolStrokeWidth": 3.5, "symbolDash": [7, 4], "labelFontSize": 16, "labelOffset": 14, "labelColor": "black", "rowPadding": 20, "padding": 5, "strokeColor": "#808080", "fillColor": "white"}}
 }}
],
"resolve": {"scale": {"y": "independent", "color": "independent"}}
}
